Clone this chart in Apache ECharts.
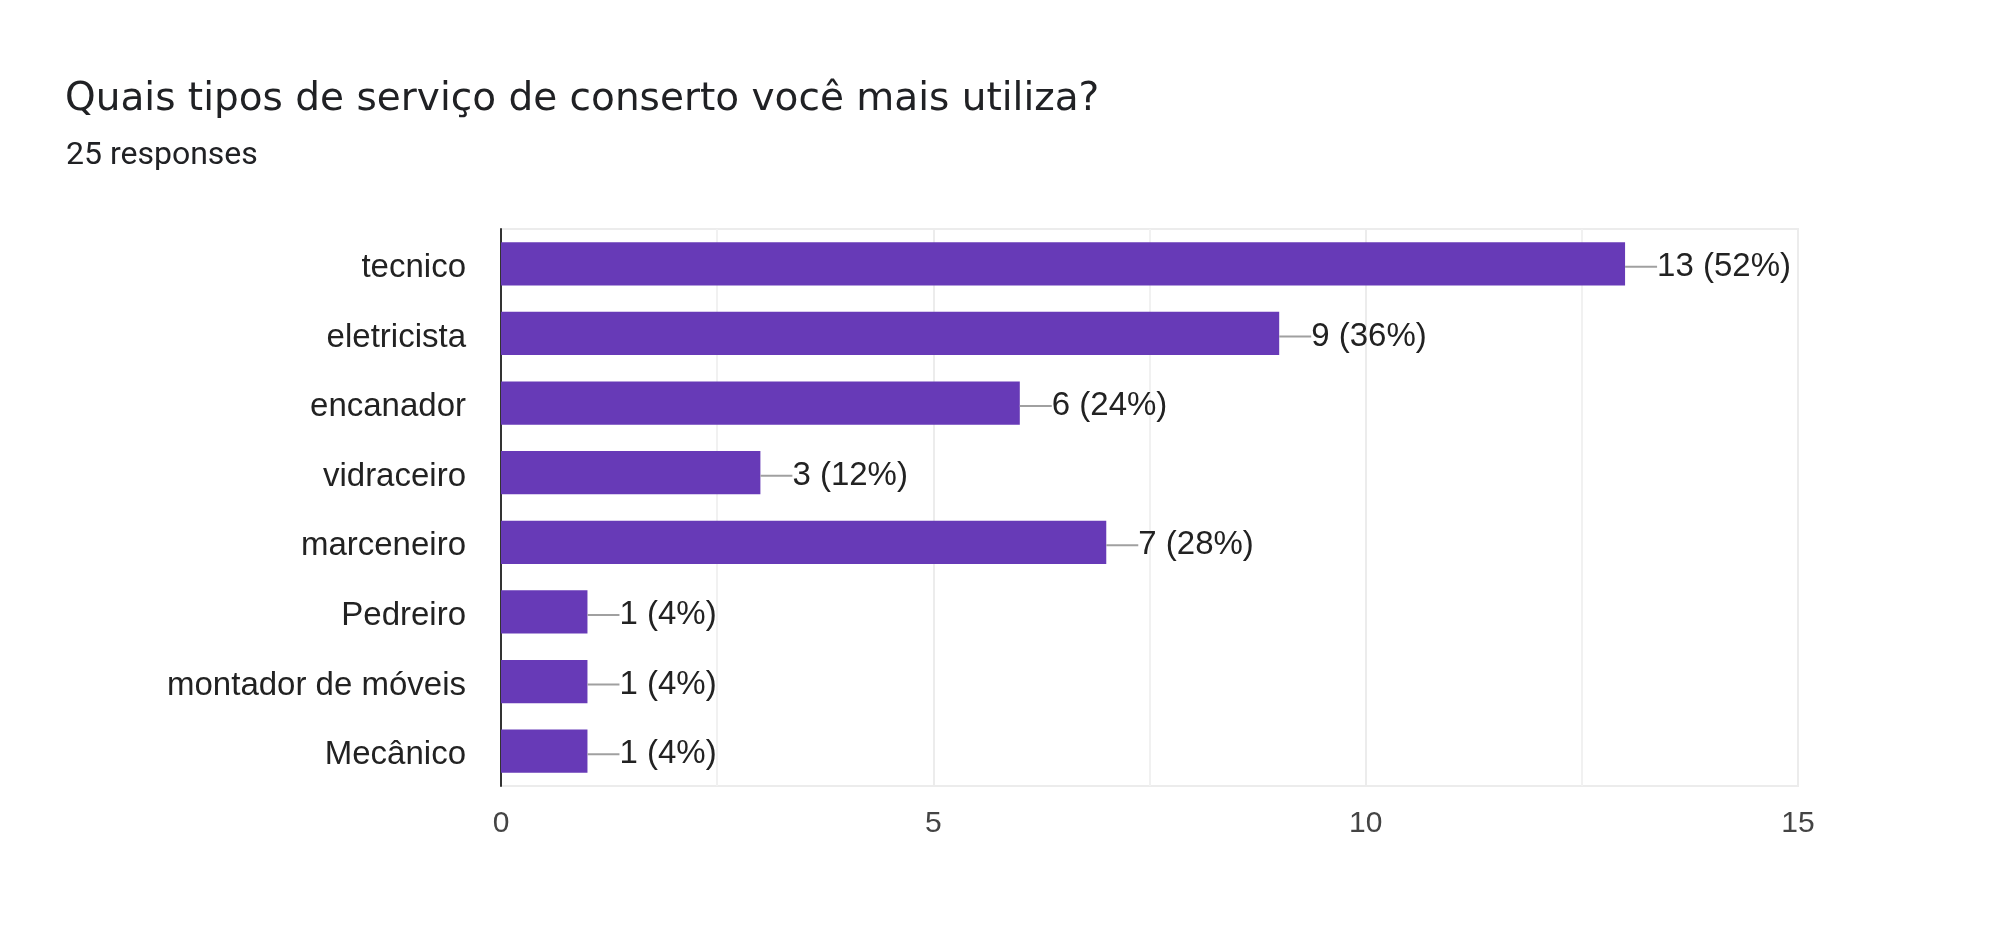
<!DOCTYPE html>
<html>
<head>
<meta charset="utf-8">
<script src="https://cdn.jsdelivr.net/npm/echarts@6/dist/echarts.min.js"></script>
<style>
html,body{margin:0;padding:0;background:#fff;}
#chart{width:1999px;height:951px;}
</style>
</head>
<body>
<div id="chart"></div>
<script>
const titleText = 'Quais tipos de serviço de conserto você mais utiliza?';
const subtitleText = '25 responses';
const totalResponses = 25;
const categories = ['tecnico','eletricista','encanador','vidraceiro','marceneiro','Pedreiro','montador de móveis','Mecânico'];
const values = [13, 9, 6, 3, 7, 1, 1, 1];
const xMin = 0, xMax = 15, xInterval = 5;

const chart = echarts.init(document.getElementById('chart'));
chart.setOption({
  animation: false,
  backgroundColor: '#ffffff',
  title: [
    {text: titleText, left: 65, top: 80, padding: 0,
     textStyle: {fontFamily: 'DejaVu Sans', fontSize: 39, fontWeight: 'normal', color: '#202124'}},
    {text: subtitleText, left: 66, top: 140, padding: 0,
     textStyle: {fontFamily: 'Roboto', fontSize: 32, fontWeight: 'normal', color: '#202124'}}
  ],
  grid: {left: 501, top: 229, width: 1297, height: 557, show: true, borderColor: '#ececec', borderWidth: 2, backgroundColor: 'transparent'},
  xAxis: {
    type: 'value', min: xMin, max: xMax, interval: xInterval,
    axisLine: {show: false}, axisTick: {show: false},
    axisLabel: {fontFamily: 'Liberation Sans', fontSize: 30, color: '#444444', margin: 23},
    splitLine: {show: true, lineStyle: {color: '#ececec', width: 2}},
    minorTick: {show: false, splitNumber: 2},
    minorSplitLine: {show: true, lineStyle: {color: '#f1f1f1', width: 2}}
  },
  yAxis: {
    type: 'category', data: categories, inverse: true,
    axisLine: {show: true, lineStyle: {color: '#333333', width: 2}},
    axisTick: {show: false},
    axisLabel: {
      margin: 35,
      formatter: v => '{a|' + v + '}',
      rich: {a: {fontFamily: 'Liberation Sans', fontSize: 33, color: '#222222', padding: [8, 0, 0, 0]}}
    }
  },
  series: [{
    type: 'bar', data: values, barCategoryGap: '38%',
    itemStyle: {color: '#673ab7'},
    label: {
      show: true, position: 'right', distance: 0, offset: [0, 3],
      formatter: p => '{ln|}{t|' + p.value + ' (' + Math.round(p.value / totalResponses * 100) + '%)}',
      rich: {
        ln: {width: 32, height: 2, backgroundColor: '#a0a0a0'},
        t: {fontFamily: 'Liberation Sans', fontSize: 33, color: '#222222'}
      }
    }
  }]
});
</script>
</body>
</html>
